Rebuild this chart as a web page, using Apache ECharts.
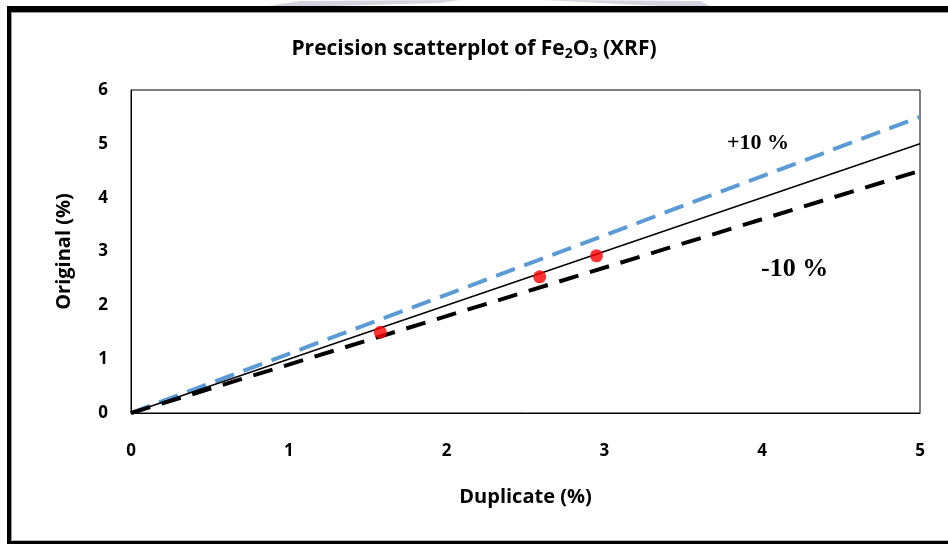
<!DOCTYPE html>
<html>
<head>
<meta charset="utf-8">
<script src="https://cdn.jsdelivr.net/npm/echarts@6/dist/echarts.min.js"></script>
<style>
  html, body { margin: 0; padding: 0; background: #fff; }
  #chart { width: 948px; height: 544px; }
</style>
</head>
<body>
<div id="chart"></div>
<script>
// Duplicate vs original Fe2O3 assays (XRF), in %
const duplicate = [1.58, 2.59, 2.95];
const original = [1.50, 2.53, 2.92];

// Reference lines: 1:1 and the ±10 % precision envelope
const lineX = [0, 5];
const oneToOne = [0, 5];
const plusTen = [0, 5.5];
const minusTen = [0, 4.5];

const xTicks = [0, 1, 2, 3, 4, 5];
const yTicks = [0, 1, 2, 3, 4, 5, 6];

const pairs = (xs, ys) => xs.map((x, i) => [x, ys[i]]);

const chart = echarts.init(document.getElementById('chart'), null, { renderer: 'canvas' });

const labelFont = '"Open Sans", "Noto Sans", sans-serif';

chart.setOption({
  backgroundColor: '#fff',
  animation: false,
  title: {
    text: '{b|Precision scatterplot of Fe}{s|2}{b|O}{s|3}{b| (XRF)}',
    left: 'center',
    top: 32,
    textStyle: {
      rich: {
        b: { fontFamily: labelFont, fontWeight: 'bold', fontSize: 21, color: '#000' },
        s: { fontFamily: labelFont, fontWeight: 'bold', fontSize: 14, color: '#000', padding: [10, 0, 0, 0] }
      }
    }
  },
  grid: {
    left: 131, right: 28, top: 90, bottom: 131,
    show: true, borderColor: '#000', borderWidth: 1
  },
  xAxis: {
    type: 'value',
    min: xTicks[0], max: xTicks[xTicks.length - 1], interval: 1,
    name: 'Duplicate (%)',
    nameLocation: 'middle',
    nameGap: 74,
    nameTextStyle: { fontFamily: labelFont, fontWeight: 'bold', fontSize: 20, color: '#000' },
    axisLine: { show: true, lineStyle: { color: '#000', width: 1 } },
    axisTick: { show: false },
    splitLine: { show: false },
    axisLabel: { margin: 30, fontFamily: labelFont, fontWeight: 'bold', fontSize: 17, color: '#000' }
  },
  yAxis: {
    type: 'value',
    min: yTicks[0], max: yTicks[yTicks.length - 1], interval: 1,
    name: 'Original (%)',
    nameLocation: 'middle',
    nameGap: 57,
    nameRotate: 90,
    nameTextStyle: { fontFamily: labelFont, fontWeight: 'bold', fontSize: 20, color: '#000' },
    axisLine: { show: true, lineStyle: { color: '#000', width: 1 } },
    axisTick: { show: false },
    splitLine: { show: false },
    axisLabel: { margin: 23, fontFamily: labelFont, fontWeight: 'bold', fontSize: 17, color: '#000' }
  },
  series: [
    {
      name: '+10 %', type: 'line', data: pairs(lineX, plusTen),
      showSymbol: false, silent: true,
      lineStyle: { color: '#5b9bd5', width: 4, type: [20, 10] }
    },
    {
      name: '-10 %', type: 'line', data: pairs(lineX, minusTen),
      showSymbol: false, silent: true,
      lineStyle: { color: '#000', width: 4, type: [20, 12] }
    },
    {
      name: '1:1', type: 'line', data: pairs(lineX, oneToOne),
      showSymbol: false, silent: true,
      lineStyle: { color: '#000', width: 1.5, type: 'solid' }
    },
    {
      name: 'Fe2O3', type: 'scatter', data: pairs(duplicate, original),
      symbol: 'circle', symbolSize: 13,
      itemStyle: { color: '#ff0000' }, z: 5
    }
  ],
  graphic: [
    // faint arcs above the frame
    { type: 'polygon', shape: { points: [[268, 6], [300, 1], [460, 0], [440, 3], [330, 6]] }, style: { fill: '#d4d4de' } },
    { type: 'polygon', shape: { points: [[545, 0], [700, 1], [710, 6], [660, 6], [600, 3]] }, style: { fill: '#d4d4de' } },
    // page frame
    { type: 'rect', shape: { x: 7, y: 6, width: 941, height: 6 }, style: { fill: '#000' } },
    { type: 'rect', shape: { x: 7, y: 6, width: 4, height: 538 }, style: { fill: '#000' } },
    { type: 'rect', shape: { x: 7, y: 541, width: 941, height: 3 }, style: { fill: '#000' } },
    { type: 'rect', shape: { x: 11, y: 12, width: 937, height: 1 }, style: { fill: '#999' } },
    { type: 'rect', shape: { x: 11, y: 12, width: 1, height: 529 }, style: { fill: '#999' } },
    { type: 'rect', shape: { x: 11, y: 540, width: 937, height: 1 }, style: { fill: '#bbb' } },
    // envelope labels
    {
      type: 'text', left: 727, top: 132,
      style: { text: '+10 %', font: '600 22px "Liberation Serif", "DejaVu Serif", serif', fill: '#000' }
    },
    {
      type: 'text', left: 761, top: 256,
      style: { text: '-10 %', font: 'bold 26px "Liberation Serif", "DejaVu Serif", serif', fill: '#000' }
    }
  ]
});
</script>
</body>
</html>
